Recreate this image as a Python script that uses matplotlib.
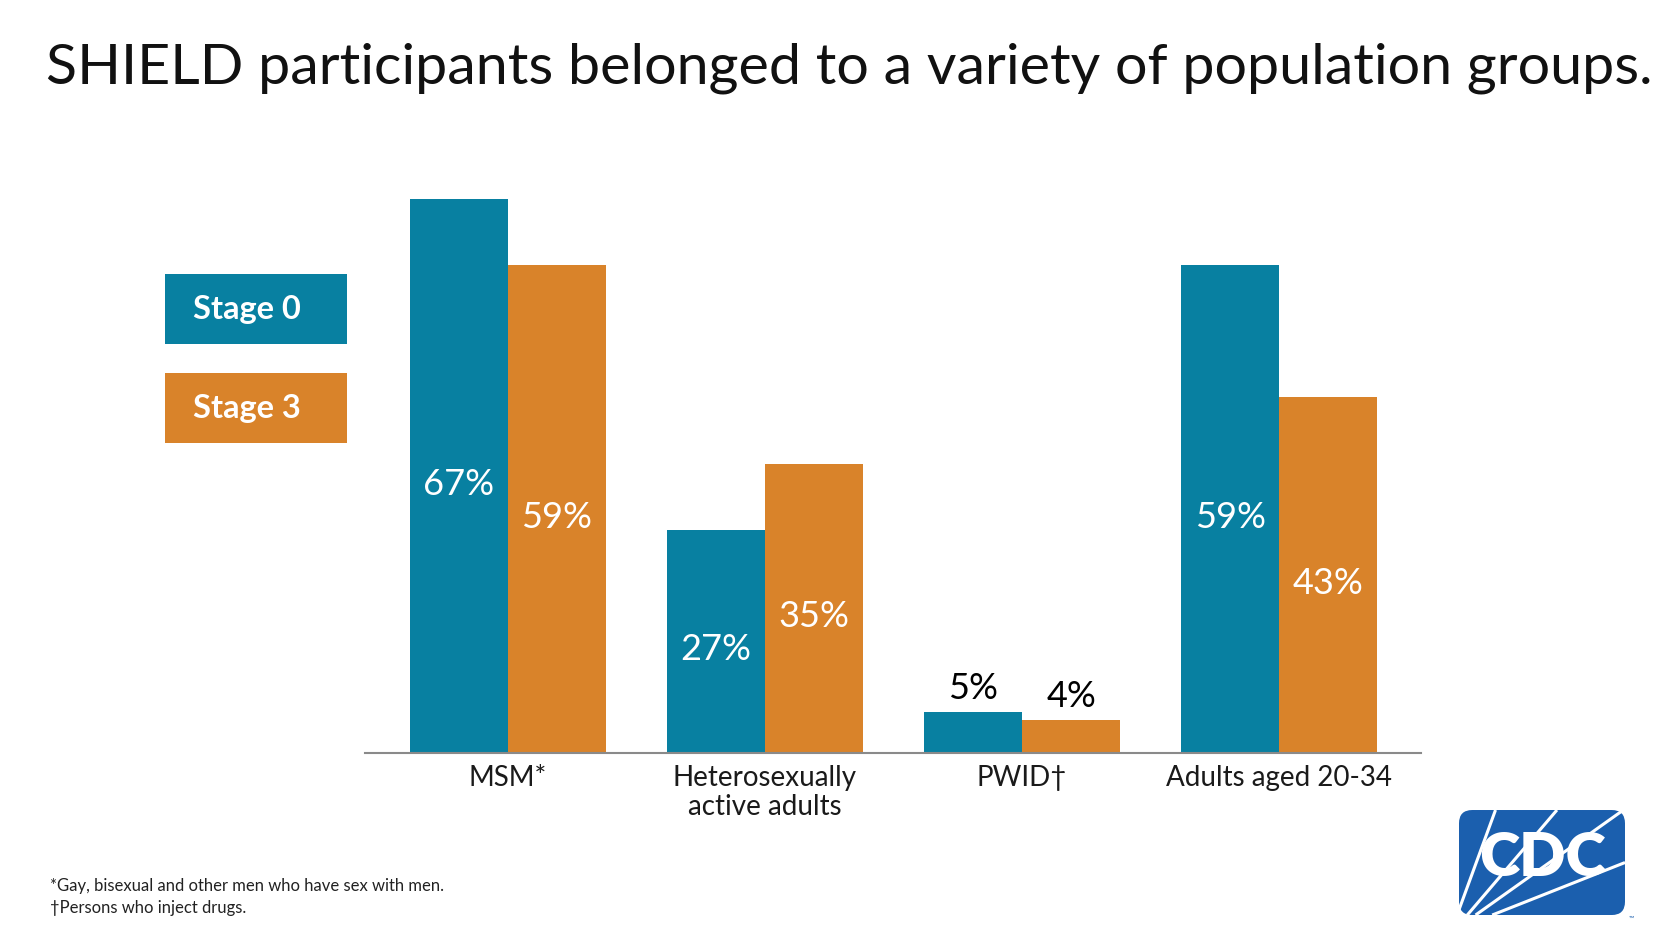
import matplotlib
matplotlib.use('Agg')
from matplotlib import pyplot as plt
from matplotlib.patches import Rectangle, FancyBboxPatch
import numpy as np

plt.rcParams['font.family'] = ['Lato', 'DejaVu Sans']

categories = ['MSM*', 'Heterosexually\nactive adults', 'PWID\u2020', 'Adults aged 20-34']
stage0 = [67, 27, 5, 59]
stage3 = [59, 35, 4, 43]
series_names = ['Stage 0', 'Stage 3']
footnotes = ['*Gay, bisexual and other men who have sex with men.',
             '\u2020Persons who inject drugs.']

BLUE = '#0880a1'
ORANGE = '#d9832a'

fig = plt.figure(figsize=(16.72, 9.41), dpi=100)
fig.patch.set_facecolor('white')

ax = fig.add_axes([0.2183, 0.1998, 0.6316, 0.615])
x = np.arange(len(categories))
w = 0.382
b0 = ax.bar(x - w / 2, stage0, w, color=BLUE)
b3 = ax.bar(x + w / 2, stage3, w, color=ORANGE)
ax.set_xlim(-0.556, 3.552)
ax.set_ylim(0, 70)

# value labels: inside the bar when tall enough, above it otherwise
for bars, vals in ((b0, stage0), (b3, stage3)):
    for bar, v in zip(bars, vals):
        cx = bar.get_x() + bar.get_width() / 2
        if v >= 10:
            ax.text(cx, v / 2 - 1.0, f'{v}%', ha='center', va='center',
                    color='white', fontsize=26)
        else:
            ax.annotate(f'{v}%', (cx, v), xytext=(0, 5), textcoords='offset points',
                        ha='center', va='bottom', color='black', fontsize=26)

for s in ['top', 'right', 'left']:
    ax.spines[s].set_visible(False)
ax.spines['bottom'].set_color('#8a8a8a')
ax.spines['bottom'].set_linewidth(1.5)
ax.set_yticks([])
ax.set_xticks(x)
ax.set_xticklabels(categories, fontsize=20, color='#1a1a1a', linespacing=1.12)
ax.tick_params(axis='x', length=0, pad=9)

fig.text(0.508, 0.927, 'SHIELD participants belonged to a variety of population groups.',
         ha='center', va='center', fontsize=41.3, color='#111111')

# legend boxes
for name, col, y0, ty in ((series_names[0], BLUE, 0.6344, 0.6706),
                          (series_names[1], ORANGE, 0.5292, 0.5654)):
    fig.add_artist(Rectangle((0.0987, y0), 0.1089, 0.0744, transform=fig.transFigure,
                             color=col, lw=0))
    fig.text(0.1154, ty, name, ha='left', va='center', color='white',
             fontsize=23.5, fontweight='bold')

fig.text(0.030, 0.0584, footnotes[0], ha='left', va='center', fontsize=12, color='#222222')
fig.text(0.030, 0.0351, footnotes[1], ha='left', va='center', fontsize=12, color='#222222')

# CDC logo
lax = fig.add_axes([0.8726, 0.0276, 0.0993, 0.1116])
lax.set_xlim(0, 1)
lax.set_ylim(0, 1)
lax.axis('off')
lax.add_patch(FancyBboxPatch((0, 0), 1, 1, boxstyle='round,pad=0,rounding_size=0.08',
                             mutation_aspect=1.6, color='#1b5fae', lw=0))
for (x0, y0), (x1, y1) in [((0.0, 0.05), (0.22, 1.0)), ((0.05, 0.0), (0.59, 1.0)),
                           ((0.1, 0.0), (0.99, 1.0)), ((0.2, 0.0), (1.0, 0.5))]:
    lax.plot([x0, x1], [y0, y1], color='white', lw=2.2, solid_capstyle='butt')
lax.text(0.5, 0.54, 'CDC', ha='center', va='center', color='white',
         fontsize=44, fontweight='heavy')
lax.text(1.02, -0.03, '\u2122', ha='left', va='center', color='#1b5fae', fontsize=5)

fig.savefig('out.png', dpi=100, facecolor='white')
